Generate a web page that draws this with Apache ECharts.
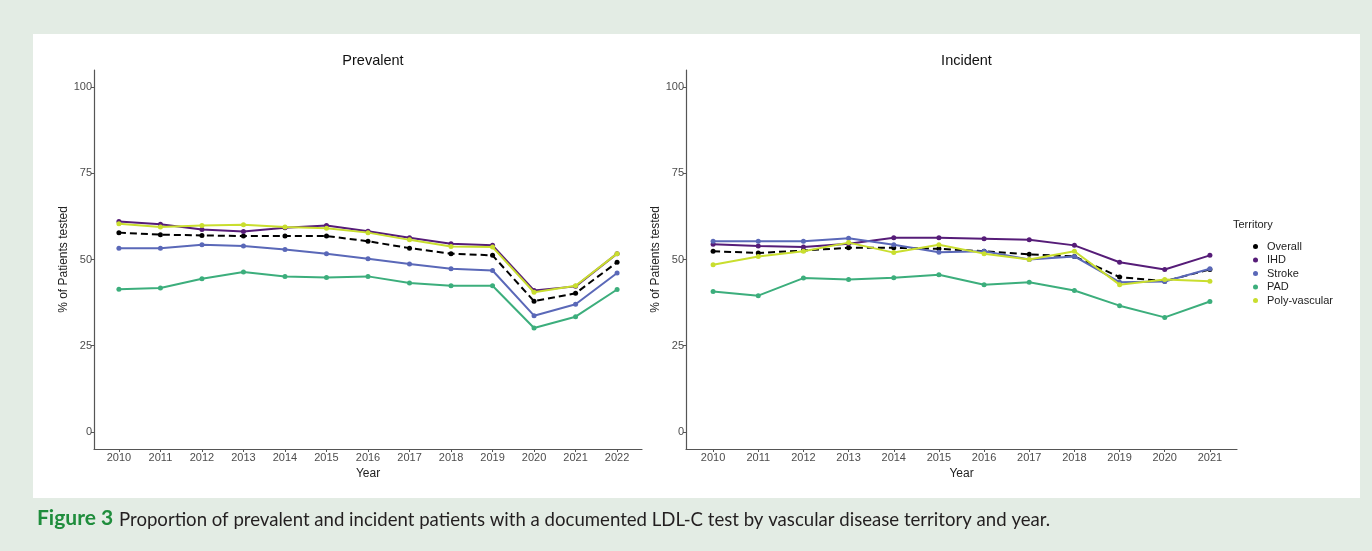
<!DOCTYPE html>
<html>
<head>
<meta charset="utf-8">
<title>LDL-C testing by vascular disease territory</title>
<script src="https://cdn.jsdelivr.net/npm/echarts@6/dist/echarts.min.js"></script>
<style>
  html, body { margin: 0; padding: 0; background: #e3ece4; }
  #chart { width: 1372px; height: 551px; }
</style>
</head>
<body>
<div id="chart"></div>
<script>
// Years shown in each panel
const prevalentYears = [2010, 2011, 2012, 2013, 2014, 2015, 2016, 2017, 2018, 2019, 2020, 2021, 2022];
const incidentYears  = [2010, 2011, 2012, 2013, 2014, 2015, 2016, 2017, 2018, 2019, 2020, 2021];

// % of prevalent patients tested, per territory
const prevalentOverall = [57.8, 57.2, 57.0, 56.8, 56.8, 56.8, 55.3, 53.3, 51.7, 51.2, 37.9, 40.2, 49.2];
const prevalentIHD     = [61.0, 60.2, 58.7, 58.1, 59.2, 59.9, 58.2, 56.3, 54.6, 54.1, 41.0, 42.2, 51.7];
const prevalentStroke  = [53.3, 53.3, 54.3, 53.9, 52.9, 51.7, 50.2, 48.7, 47.3, 46.8, 33.7, 37.0, 46.1];
const prevalentPAD     = [41.4, 41.7, 44.4, 46.4, 45.1, 44.8, 45.1, 43.2, 42.4, 42.4, 30.1, 33.4, 41.3];
const prevalentPoly    = [60.4, 59.4, 59.9, 60.1, 59.4, 59.1, 57.8, 55.7, 53.8, 53.6, 40.5, 42.4, 51.7];

// % of incident patients tested, per territory
const incidentOverall = [52.4, 51.9, 52.6, 53.4, 53.4, 53.1, 52.4, 51.5, 50.9, 44.9, 43.7, 47.1];
const incidentIHD     = [54.4, 53.9, 53.6, 54.6, 56.3, 56.3, 56.0, 55.7, 54.1, 49.2, 47.1, 51.2];
const incidentStroke  = [55.3, 55.3, 55.3, 56.2, 54.3, 52.1, 52.4, 50.0, 50.9, 43.4, 43.6, 47.3];
const incidentPAD     = [40.7, 39.5, 44.6, 44.2, 44.7, 45.6, 42.7, 43.4, 41.0, 36.6, 33.2, 37.8];
const incidentPoly    = [48.5, 50.9, 52.4, 54.9, 52.0, 54.3, 51.7, 50.0, 52.4, 42.7, 44.2, 43.7];

// Legend and styling
const territories = ['Overall', 'IHD', 'Stroke', 'PAD', 'Poly-vascular'];
const territoryColors = ['#000000', '#561c78', '#5a68b8', '#3cae7c', '#c9de2e'];
const yTicks = [0, 25, 50, 75, 100];
const panelTitles = ['Prevalent', 'Incident'];
const yAxisTitle = '% of Patients tested';
const xAxisTitle = 'Year';
const legendTitle = 'Territory';
const captionLead = 'Figure 3';
const captionText = 'Proportion of prevalent and incident patients with a documented LDL-C test by vascular disease territory and year.';

const FONT = '"Liberation Sans", Arial, sans-serif';
const CAPTION_FONT = 'Lato, "Open Sans", sans-serif';
const AXIS_GREY = '#555555';
const LABEL_GREY = '#4d4d4d';

const panels = [
  { years: prevalentYears, series: [prevalentOverall, prevalentIHD, prevalentStroke, prevalentPAD, prevalentPoly] },
  { years: incidentYears,  series: [incidentOverall, incidentIHD, incidentStroke, incidentPAD, incidentPoly] }
];

const grids = [
  { left: 94, top: 70, width: 548, height: 379 },
  { left: 686, top: 70, width: 551, height: 379 }
];

function xAxisFor(i) {
  const yrs = panels[i].years;
  return {
    type: 'value', gridIndex: i,
    min: yrs[0] - 0.6, max: yrs[yrs.length - 1] + 0.6,
    name: xAxisTitle, nameLocation: 'middle', nameGap: 13,
    nameTextStyle: { fontFamily: FONT, fontSize: 12, color: '#222' },
    axisLine: { onZero: false, lineStyle: { color: AXIS_GREY, width: 1.2 } },
    axisTick: { show: true, length: 3, customValues: yrs, lineStyle: { color: AXIS_GREY } },
    axisLabel: { customValues: yrs, formatter: v => String(v), fontFamily: FONT, fontSize: 11, color: LABEL_GREY, margin: 3 },
    splitLine: { show: false }
  };
}

function yAxisFor(i) {
  return {
    type: 'value', gridIndex: i, min: -5, max: 105,
    name: yAxisTitle, nameLocation: 'middle', nameGap: 22,
    nameTextStyle: { fontFamily: FONT, fontSize: 12, color: '#222' },
    axisLine: { show: true, onZero: false, lineStyle: { color: AXIS_GREY, width: 1.2 } },
    axisTick: { show: true, length: 3, customValues: yTicks, lineStyle: { color: AXIS_GREY } },
    axisLabel: { customValues: yTicks, fontFamily: FONT, fontSize: 11, color: LABEL_GREY, margin: 2 },
    splitLine: { show: false }
  };
}

const series = [];
panels.forEach((p, i) => {
  p.series.forEach((vals, k) => {
    series.push({
      name: territories[k],
      type: 'line',
      xAxisIndex: i, yAxisIndex: i,
      data: p.years.map((y, j) => [y, vals[j]]),
      symbol: 'circle', symbolSize: 5,
      color: territoryColors[k],
      lineStyle: { width: 2, color: territoryColors[k], type: k === 0 ? [7, 4] : 'solid' },
      itemStyle: { color: territoryColors[k] },
      z: 2 + k,
      animation: false
    });
  });
});

const chart = echarts.init(document.getElementById('chart'), null, { renderer: 'canvas' });
chart.setOption({
  backgroundColor: '#e3ece4',
  animation: false,
  graphic: [
    { type: 'rect', z: -10, shape: { x: 33, y: 34, width: 1327, height: 464 }, style: { fill: '#ffffff' } },
    { type: 'text', left: 1233, top: 219, style: { text: legendTitle, fontFamily: FONT, fontSize: 11, fill: '#222' } },
    { type: 'text', left: 37, top: 508, style: { text: captionLead, fontFamily: CAPTION_FONT, fontWeight: 'bold', fontSize: 21, fill: '#1f8d3c' } },
    { type: 'text', left: 119, top: 510, style: { text: captionText, fontFamily: CAPTION_FONT, fontSize: 18.6, fill: '#231f20' } }
  ],
  title: panelTitles.map((t, i) => ({
    text: t,
    left: grids[i].left + grids[i].width / 2,
    top: 48,
    textAlign: 'center',
    textStyle: { fontFamily: FONT, fontSize: 14.5, fontWeight: 'normal', color: '#111' }
  })),
  legend: {
    data: territories,
    orient: 'vertical',
    left: 1248, top: 236,
    icon: 'circle', itemWidth: 5, itemHeight: 5, itemGap: 2.5,
    textStyle: { fontFamily: FONT, fontSize: 11, lineHeight: 11, color: '#222', padding: [0, 0, 0, 4] },
    selectedMode: false
  },
  grid: grids,
  xAxis: [xAxisFor(0), xAxisFor(1)],
  yAxis: [yAxisFor(0), yAxisFor(1)],
  series: series
});
</script>
</body>
</html>
